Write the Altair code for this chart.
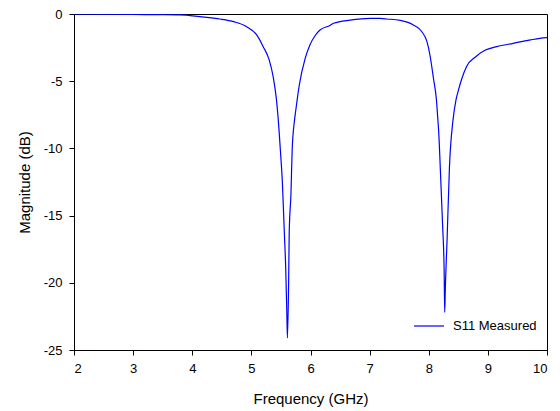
import altair as alt
import pandas as pd

freq = [2.0, 2.5, 3.0, 3.4, 3.79, 4.13, 4.47, 4.70, 4.92, 5.09, 5.20, 5.30, 5.37, 5.42, 5.45,
        5.49, 5.525, 5.555, 5.58, 5.60, 5.61, 5.63, 5.64, 5.67, 5.69, 5.73, 5.75, 5.78, 5.81,
        5.91, 5.99, 6.08, 6.16, 6.33, 6.39, 6.67, 7.01, 7.18, 7.29, 7.52, 7.74, 7.88, 7.97,
        8.02, 8.08, 8.13, 8.15, 8.17, 8.20, 8.235, 8.26, 8.27, 8.28, 8.31, 8.35, 8.41, 8.46,
        8.50, 8.56, 8.64, 8.79, 8.95, 9.15, 9.43, 9.72, 9.88, 10.0]
mag = [0.0, -0.01, -0.03, -0.05, -0.07, -0.2, -0.37, -0.57, -0.94, -1.56, -2.43, -3.4, -4.7,
       -6.2, -7.6, -10.1, -12.6, -16.0, -18.8, -22.3, -24.1, -20.0, -16.3, -13.3, -10.1, -7.9,
       -7.2, -6.2, -5.3, -3.3, -2.3, -1.6, -1.19, -0.85, -0.69, -0.45, -0.32, -0.33, -0.37,
       -0.48, -0.82, -1.3, -2.06, -3.05, -4.8, -6.4, -7.6, -8.9, -12.0, -15.8, -19.0, -22.2,
       -20.5, -16.8, -11.4, -7.9, -6.4, -5.7, -4.8, -3.9, -3.2, -2.7, -2.43, -2.18, -1.93,
       -1.81, -1.76]
series = ["S11 Measured"] * len(freq)

df = pd.DataFrame({"f": freq, "m": mag, "s": series})

FONT = "Liberation Sans"

chart = alt.Chart(df).mark_line(strokeWidth=1.2, clip=True, interpolate="monotone").encode(
    x=alt.X("f:Q", title="Frequency (GHz)",
            scale=alt.Scale(domain=[2, 10], nice=False, zero=False),
            axis=alt.Axis(values=[2, 3, 4, 5, 6, 7, 8, 9, 10], grid=False, tickSize=5,
                          labelFontSize=13, titleFontSize=15, titlePadding=16,
                          labelPadding=7, domainColor="black", tickColor="black",
                          labelColor="black", titleColor="black", titleFontWeight="normal",
                          labelFont=FONT, titleFont=FONT)),
    y=alt.Y("m:Q", title="Magnitude (dB)",
            scale=alt.Scale(domain=[-25, 0], nice=False, zero=False),
            axis=alt.Axis(values=[0, -5, -10, -15, -20, -25], grid=False, tickSize=5,
                          labelFontSize=13, titleFontSize=15, titlePadding=11,
                          labelPadding=7, domainColor="black", tickColor="black",
                          labelColor="black", titleColor="black", titleFontWeight="normal",
                          labelExpr="'' + datum.value",
                          labelFont=FONT, titleFont=FONT)),
    color=alt.Color("s:N", scale=alt.Scale(range=["#0000ff"]),
                    legend=alt.Legend(title=None, orient="none", legendX=339, legendY=296,
                                      symbolType="stroke", symbolSize=900, symbolStrokeWidth=1.2,
                                      labelOffset=8,
                                      labelFontSize=13, labelFont=FONT,
                                      labelColor="black")),
).properties(
    width=473, height=336,
    padding={"left": 66, "top": 6, "right": 5, "bottom": 58},
    autosize=alt.AutoSizeParams(type="none"),
).configure_view(stroke="black", strokeWidth=1)

chart.save("out.html", embed_options={"renderer": "svg", "actions": False})
